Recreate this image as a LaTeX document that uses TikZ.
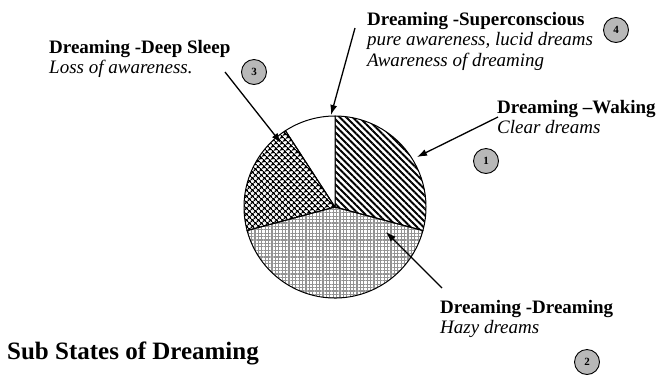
\documentclass[tikz,border=0pt]{standalone}
\usepackage{fontspec}
\setmainfont{Liberation Serif}
\usetikzlibrary{positioning,arrows.meta,patterns.meta}
\definecolor{badgefill}{gray}{0.72}

\begin{document}
\begin{tikzpicture}[
    x=1pt, y=-1pt,
    lbl/.style={anchor=north west, inner sep=0pt, align=left,
                font=\fontsize{19}{20.5}\selectfont},
    badge/.style={circle, draw=black, line width=0.9pt, fill=badgefill,
                  minimum size=25pt, inner sep=0pt,
                  font=\fontsize{11}{11}\selectfont\bfseries},
    slice/.style={draw=black, line width=1pt},
    pointer/.style={-{Latex[length=10pt,width=7pt]}, line width=1.3pt},
  ]
  \useasboundingbox (0,0) rectangle (661,376);

  % pie
  \begin{scope}[shift={(335,207)}, yscale=-1]
    \fill[white] (0,0) -- (195:91) arc[start angle=195, end angle=345, radius=91] -- cycle;
    \path[slice, pattern={Hatch[angle=0, distance=3.4pt, line width=1.2pt]}, pattern color=gray!85]
      (0,0) -- (195:91) arc[start angle=195, end angle=345, radius=91] -- cycle;
    \path[slice, pattern={Lines[angle=-45, distance=4.6pt, line width=1.9pt]}]
      (0,0) -- (-15:91) arc[start angle=-15, end angle=90, radius=91] -- cycle;
    \path[slice, fill=white]
      (0,0) -- (90:91) arc[start angle=90, end angle=123, radius=91] -- cycle;
    \path[slice, pattern={Hatch[angle=45, distance=4pt, line width=1.3pt]}]
      (0,0) -- (123:91) arc[start angle=123, end angle=195, radius=91] -- cycle;
  \end{scope}

  % labels
  \node[lbl] (deep) at (49,40) {\textbf{Dreaming -Deep Sleep}\\\textit{Loss of awareness.}};
  \node[lbl] (super) at (367,12) {\textbf{Dreaming -Superconscious}\\\textit{pure awareness, lucid dreams}\\\textit{Awareness of dreaming}};
  \node[lbl] (wake) at (497,100) {\textbf{Dreaming –Waking}\\\textit{Clear dreams}};
  \node[lbl] (dream) at (440,300) {\textbf{Dreaming -Dreaming}\\\textit{Hazy dreams}};
  \node[lbl, font=\fontsize{25}{27}\selectfont\bfseries] (title) at (7,342) {Sub States of Dreaming};

  % numbers
  \node[badge] (n1) at (486,161) {1};
  \node[badge] (n2) at (587,362) {2};
  \node[badge] (n3) at (254,72) {3};
  \node[badge] (n4) at (616,30) {4};

  % arrows
  \coordinate (superFrom) at (355,28);
  \coordinate (superTo) at (331,115);
  \coordinate (wakeFrom) at (498,117);
  \coordinate (wakeTo) at (417,157);
  \coordinate (dreamFrom) at (442,288);
  \coordinate (dreamTo) at (386,232);
  \coordinate (deepFrom) at (225,72);
  \coordinate (deepTo) at (281,143);
  \draw[pointer] (superFrom) -- (superTo);
  \draw[pointer] (wakeFrom) -- (wakeTo);
  \draw[pointer] (dreamFrom) -- (dreamTo);
  \draw[pointer] (deepFrom) -- (deepTo);
\end{tikzpicture}
\end{document}
